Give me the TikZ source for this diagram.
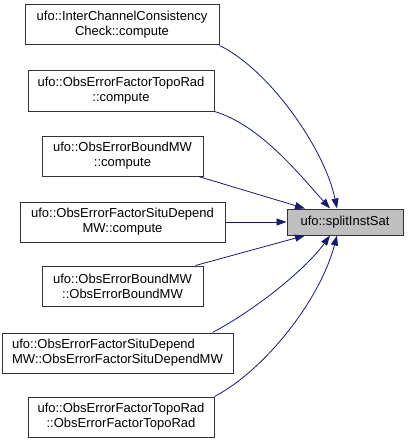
\documentclass[tikz,border=0pt]{standalone}
\usepackage{fontspec}
\setmainfont{Liberation Sans}
\usetikzlibrary{arrows.meta}
\definecolor{edgeblue}{HTML}{191970}
\definecolor{boxgray}{HTML}{BFBFBF}
\tikzset{
	fn/.style={draw=black!80, line width=1pt, align=center, inner sep=0pt, font=\fontsize{13}{15}\selectfont},
	calledge/.style={draw=edgeblue, line width=0.8pt, -{Triangle[length=10pt,width=7pt,fill=edgeblue]}},
}
\begin{document}
\begin{tikzpicture}[x=1pt,y=-1pt]
			\useasboundingbox (0,0) rectangle (408,444);
			\node [fn, minimum width=194pt, minimum height=40pt] (icc) at (122,25) {ufo::InterChannelConsistency\\Check::compute};
			\node [fn, minimum width=186pt, minimum height=41pt] (toporad) at (121,90.5) {ufo::ObsErrorFactorTopoRad\\::compute};
			\node [fn, minimum width=161pt, minimum height=40pt] (boundmw) at (122.5,156) {ufo::ObsErrorBoundMW\\::compute};
			\node [fn, minimum width=205pt, minimum height=40pt] (situmw) at (122.5,222) {ufo::ObsErrorFactorSituDepend\\MW::compute};
			\node [fn, minimum width=161pt, minimum height=40pt] (boundctor) at (122.5,286) {ufo::ObsErrorBoundMW\\::ObsErrorBoundMW};
			\node [fn, align=left, minimum width=231pt, minimum height=40pt] (situctor) at (117.5,353) {ufo::ObsErrorFactorSituDepend\\MW::ObsErrorFactorSituDependMW};
			\node [fn, minimum width=186pt, minimum height=40pt] (toporadctor) at (121,417) {ufo::ObsErrorFactorTopoRad\\::ObsErrorFactorTopoRad};
			\node [fn, fill=boxgray, minimum width=116pt, minimum height=26pt] (split) at (345,222) {ufo::splitInstSat};
			\draw [calledge] (icc.south east) .. controls (270,70) and (325,150) .. ([xshift=-8pt]split.north);
			\draw [calledge] (toporad.south east) .. controls (260,125) and (300,175) .. ([xshift=-15pt]split.north);
			\draw [calledge] ([xshift=-5pt]boundmw.south east) -- ([xshift=-40pt]split.north);
			\draw [calledge] (situmw.east) -- (split.west);
			\draw [calledge] ([xshift=-8pt]boundctor.north east) -- ([xshift=-40pt]split.south);
			\draw [calledge] ([xshift=-21pt]situctor.north east) .. controls (255,310) and (305,270) .. ([xshift=-15pt]split.south);
			\draw [calledge] (toporadctor.north east) .. controls (265,370) and (320,300) .. ([xshift=-8pt]split.south);
		\end{tikzpicture}
\end{document}
